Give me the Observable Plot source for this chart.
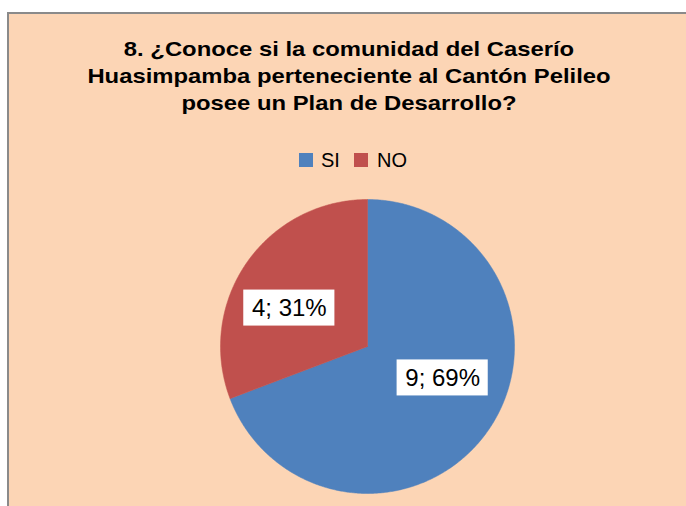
<!DOCTYPE html>
<html>
<head>
<meta charset="utf-8">
<script src="https://cdn.jsdelivr.net/npm/d3@7"></script>
<script src="https://cdn.jsdelivr.net/npm/@observablehq/plot@0.6"></script>
<style>
  html, body { margin: 0; padding: 0; background: #ffffff; width: 686px; height: 506px; overflow: hidden;
    font-family: "Liberation Sans", Arial, sans-serif; }
  #frame { position: absolute; left: 7px; top: 12px; width: 700px; height: 520px; background: #FCD5B5;
    border-top: 2px solid #8a8a8a; border-left: 2px solid #8a8a8a; }
  #title { position: absolute; left: 0; top: 35px; width: 698px; text-align: center; font-weight: bold;
    font-size: 21px; line-height: 27px; color: #000; }
  #title div { transform: scaleX(1.135); transform-origin: center; }
  #chart { position: absolute; left: 0; top: 0; }
  .sw { position: absolute; width: 14px; height: 14px; }
  .lt { position: absolute; font-size: 20px; line-height: 20px; color: #000; }
</style>
</head>
<body>
<div id="frame"></div>
<div id="chart"></div>
<div id="title"></div>
<div id="legend"></div>
<script>
// ---- data ----
const titleLines = [
  "8. ¿Conoce si la comunidad del Caserío",
  "Huasimpamba perteneciente al Cantón Pelileo",
  "posee un Plan de Desarrollo?"
];
const categories = ["SI", "NO"];
const counts = [9, 4];
const colors = ["#4F81BD", "#C0504D"];

// ---- title ----
const titleEl = document.getElementById("title");
for (const t of titleLines) { const d = document.createElement("div"); d.textContent = t; titleEl.appendChild(d); }

// ---- pie geometry from data ----
const total = d3.sum(counts);
const rows = categories.map((k, i) => ({key: k, value: counts[i]}));
const arcs = d3.pie().sort(null).value(d => d.value)(rows);
const pts = [];
for (const a of arcs) {
  pts.push({key: a.data.key, x: 0, y: 0});
  const n = Math.max(2, Math.ceil((a.endAngle - a.startAngle) / (Math.PI / 360)));
  for (let j = 0; j <= n; j++) {
    const t = a.startAngle + (a.endAngle - a.startAngle) * j / n;
    pts.push({key: a.data.key, x: Math.sin(t), y: Math.cos(t)});
  }
  pts.push({key: a.data.key, x: 0, y: 0});
}
const labels = arcs.map(a => {
  const m = (a.startAngle + a.endAngle) / 2;
  return {key: a.data.key, x: 0.58 * Math.sin(m), y: 0.58 * Math.cos(m),
    text: `${a.data.value}; ${Math.round(a.data.value / total * 100)}%`};
});

const bw = 0.31, bh = 0.1225;
function labelMarks(key, dx, dy) {
  const d = labels.filter(l => l.key === key);
  return [
    Plot.rect(d, {x1: l => l.x - bw, x2: l => l.x + bw, y1: l => l.y - bh, y2: l => l.y + bh,
      fill: "white", dx, dy}),
    Plot.text(d, {x: "x", y: "y", text: "text", fill: "black", fontSize: 24, dx, dy})
  ];
}

const plot = Plot.plot({
  width: 686, height: 506, margin: 0,
  style: {background: "transparent", fontFamily: "Liberation Sans, Arial, sans-serif"},
  x: {domain: [-1, 1], range: [220, 514], axis: null},
  y: {domain: [-1, 1], range: [493, 199], axis: null},
  color: {domain: categories, range: colors},
  marks: [
    Plot.line(pts, {x: "x", y: "y", z: "key", fill: "key", stroke: "key", strokeWidth: 0.5, curve: "linear"}),
    ...labelMarks("SI", 5, -17),
    ...labelMarks("NO", -8, 10)
  ]
});
document.getElementById("chart").appendChild(plot);

// ---- legend from the plot's color scale ----
const color = plot.scale("color");
const legend = document.getElementById("legend");
const legendPos = [{sw: 299, tx: 321}, {sw: 354, tx: 377}];
categories.forEach((k, i) => {
  const s = document.createElement("div");
  s.className = "sw"; s.style.left = legendPos[i].sw + "px"; s.style.top = "153px";
  s.style.background = color.apply(k);
  legend.appendChild(s);
  const t = document.createElement("div");
  t.className = "lt"; t.style.left = legendPos[i].tx + "px"; t.style.top = "150px";
  t.textContent = k;
  legend.appendChild(t);
});
</script>
</body>
</html>
